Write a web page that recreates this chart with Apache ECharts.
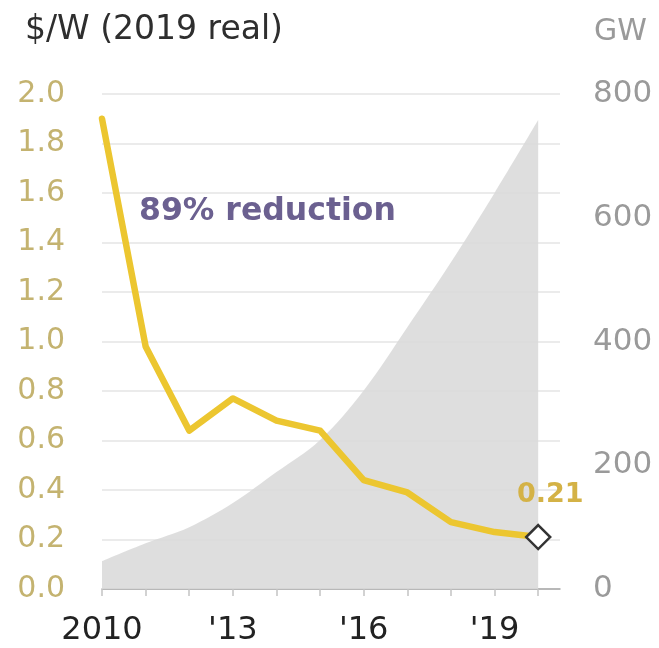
<!DOCTYPE html>
<html>
<head>
<meta charset="utf-8">
<title>Solar module price and installed capacity</title>
<script src="https://cdn.jsdelivr.net/npm/echarts@6/dist/echarts.min.js"></script>
<style>
  html, body { margin: 0; padding: 0; background: #ffffff; }
  #chart { width: 659px; height: 648px; }
</style>
</head>
<body>
<div id="chart"></div>
<script>
// Years on the horizontal axis
const years = [2010, 2011, 2012, 2013, 2014, 2015, 2016, 2017, 2018, 2019, 2020];
// Module price, $/W in 2019 dollars
const pricePerWatt = [1.90, 0.98, 0.64, 0.77, 0.68, 0.64, 0.44, 0.39, 0.27, 0.23, 0.21];
// Cumulative installed capacity, GW
const capacityGW = [45, 74, 100, 139, 189, 241, 321, 423, 528, 640, 758];
// Years that get a label under the axis
const labelledYears = [2010, 2013, 2016, 2019];

const FONT = 'DejaVu Sans';
const GOLD = '#ecc630';

const chart = echarts.init(document.getElementById('chart'), null, { renderer: 'canvas' });

const lastIdx = pricePerWatt.length - 1;
const priceData = pricePerWatt.map((v, i) => {
  if (i !== lastIdx) return [years[i], v];
  return {
    value: [years[i], v],
    symbol: 'diamond',
    symbolSize: 24,
    itemStyle: { color: '#ffffff', borderColor: '#333333', borderWidth: 2.5 },
    label: {
      show: true,
      position: 'top',
      offset: [12, -10],
      formatter: () => v.toFixed(2),
      color: '#d4b246',
      fontFamily: FONT,
      fontWeight: 'bold',
      fontSize: 27
    }
  };
});

const option = {
  backgroundColor: '#ffffff',
  animation: false,
  title: [
    {
      text: '$/W (2019 real)',
      left: 20,
      top: 9,
      textStyle: { fontFamily: FONT, fontSize: 33, fontWeight: 'normal', color: '#2e2e2e' }
    },
    {
      text: 'GW',
      left: 589,
      top: 12,
      textStyle: { fontFamily: FONT, fontSize: 30, fontWeight: 'normal', color: '#9a9a9a' }
    }
  ],
  graphic: [
    {
      type: 'text',
      left: 139,
      top: 196,
      style: {
        text: '89% reduction',
        font: 'bold 31.5px "DejaVu Sans"',
        fill: '#6b6090'
      }
    }
  ],
  grid: { left: 102, right: 99, top: 94, bottom: 59 },
  xAxis: {
    type: 'value',
    min: 2010,
    max: 2020.5,
    interval: 1,
    splitLine: { show: false },
    axisLine: { show: true, lineStyle: { color: '#a8a8a8', width: 1.5 } },
    axisTick: {
      show: true,
      length: 7,
      customValues: years,
      lineStyle: { color: '#c4c4c4', width: 1.5 }
    },
    axisLabel: {
      customValues: labelledYears,
      margin: 26,
      fontFamily: FONT,
      fontSize: 32,
      color: '#222222',
      formatter: v => (v === 2010 ? '2010' : "'" + String(v).slice(2))
    }
  },
  yAxis: [
    {
      type: 'value',
      min: 0,
      max: 2.0,
      interval: 0.2,
      position: 'left',
      axisLine: { show: false },
      axisTick: { show: false },
      splitLine: { show: true, lineStyle: { color: '#e4e4e4', width: 1.5 } },
      axisLabel: {
        margin: 37,
        fontFamily: FONT,
        fontSize: 30,
        color: '#c4b370',
        formatter: v => v.toFixed(1)
      }
    },
    {
      type: 'value',
      min: 0,
      max: 800,
      interval: 200,
      position: 'right',
      axisLine: { show: false },
      axisTick: { show: false },
      splitLine: { show: false },
      axisLabel: {
        margin: 33,
        fontFamily: FONT,
        fontSize: 31,
        color: '#9a9a9a'
      }
    }
  ],
  series: [
    {
      name: 'Installed capacity',
      type: 'line',
      yAxisIndex: 1,
      smooth: 0.35,
      symbol: 'none',
      lineStyle: { width: 0 },
      areaStyle: { color: '#dadada', opacity: 0.88 },
      data: capacityGW.map((v, i) => [years[i], v]),
      z: 1
    },
    {
      name: 'Module price',
      type: 'line',
      yAxisIndex: 0,
      symbol: 'none',
      showSymbol: true,
      lineStyle: { color: GOLD, width: 6.5, join: 'round', cap: 'round' },
      itemStyle: { color: GOLD },
      data: priceData,
      z: 3
    }
  ]
};

chart.setOption(option);
</script>
</body>
</html>
